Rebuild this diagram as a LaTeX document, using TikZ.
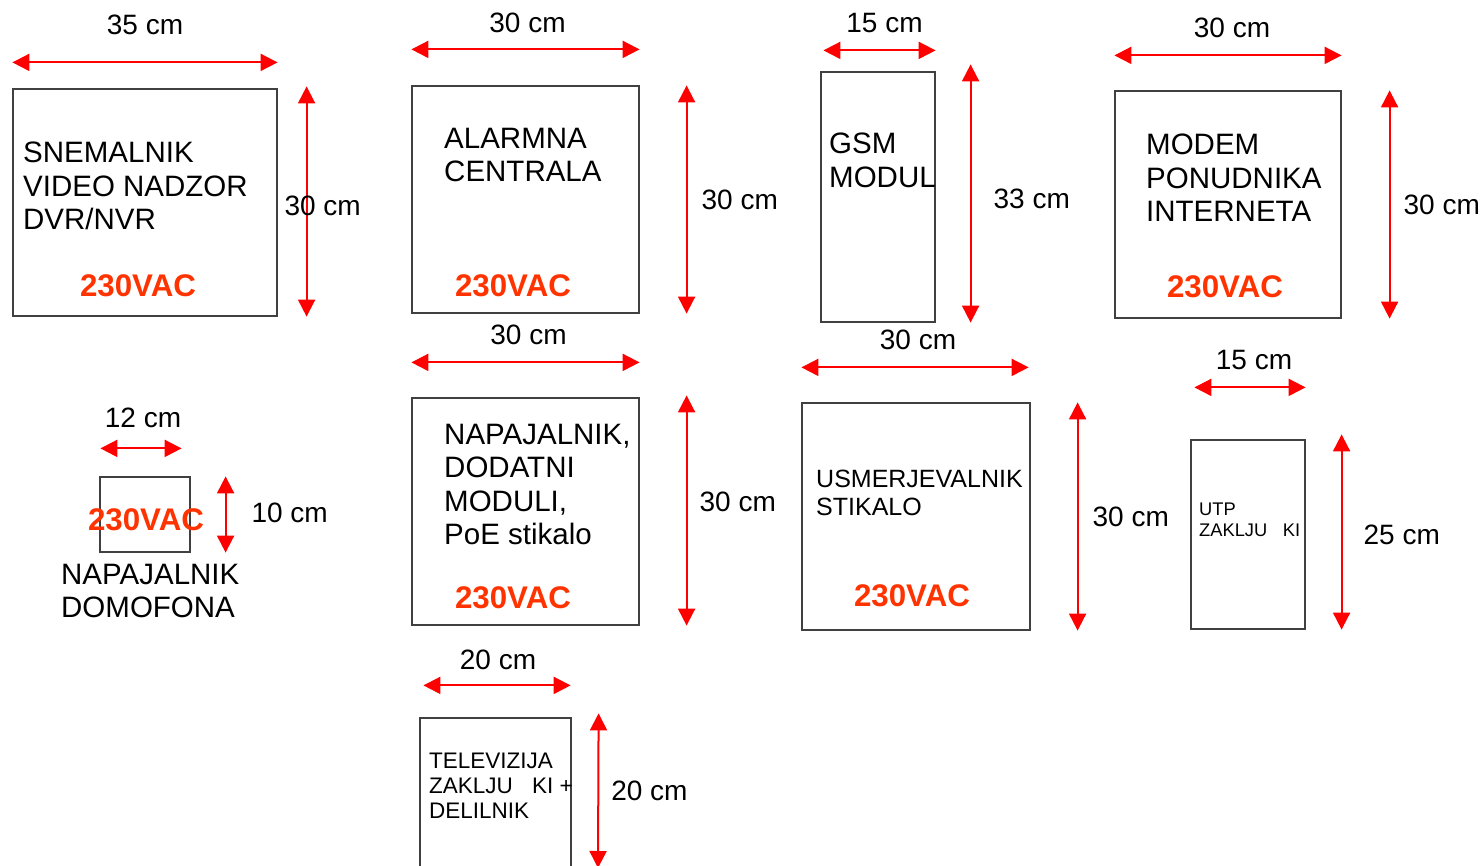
\documentclass[tikz,border=0pt]{standalone}
\usepackage{fontspec}
\setmainfont{Liberation Sans}
\usetikzlibrary{arrows.meta,positioning}
\definecolor{voltred}{HTML}{FF3300}

\begin{document}
\begin{tikzpicture}[
  x=1pt, y=-1pt,
  >={Triangle[length=17pt,width=17pt]},
  box/.style={draw=black!75, line width=1.2pt, inner sep=0pt},
  dim/.style={<->, draw=red, line width=2pt},
  dimlbl/.style={font=\fontsize{28}{33}\selectfont, inner sep=0pt, text=black},
  big/.style={font=\fontsize{29.5}{33.5}\selectfont, align=left, inner sep=0pt, anchor=north west},
  mid/.style={font=\fontsize{25}{28}\selectfont, align=left, inner sep=0pt, anchor=north west},
  volt/.style={font=\fontsize{31.3}{36}\selectfont\bfseries, text=voltred, inner sep=0pt}
]
\useasboundingbox (0,0) rectangle (1483,866);
\clip (0,0) rectangle (1483,866);

% boxes
\node[box, minimum width=264pt, minimum height=227pt] (snem) at (145,202.5) {};
\node[box, minimum width=227pt, minimum height=227pt] (alarm) at (525.5,199.5) {};
\node[box, minimum width=114pt, minimum height=250pt] (gsm) at (878,197) {};
\node[box, minimum width=226pt, minimum height=227pt] (modem) at (1228,204.5) {};
\node[box, minimum width=90pt, minimum height=75pt] (domo) at (145,514.5) {};
\node[box, minimum width=227pt, minimum height=227pt] (napa) at (525.5,511.5) {};
\node[box, minimum width=228pt, minimum height=227pt] (usm) at (916,516.5) {};
\node[box, minimum width=114pt, minimum height=189pt] (utp) at (1248,534.5) {};
\node[box, minimum width=151pt, minimum height=180pt] (tv) at (495.5,808) {};
\coordinate (tvbot) at (598,868);

% texts
\node[big] (snemtxt) at (23,142) {SNEMALNIK\\VIDEO NADZOR\\DVR/NVR};
\node[big] (alarmtxt) at (444,128) {ALARMNA\\CENTRALA};
\node[big] (gsmtxt) at (829,133) {GSM\\MODUL};
\node[big] (modemtxt) at (1146,134) {MODEM\\PONUDNIKA\\INTERNETA};
\node[big] (domotxt) at (61,564) {NAPAJALNIK\\DOMOFONA};
\node[big] (napatxt) at (444,424) {NAPAJALNIK,\\DODATNI\\MODULI,\\PoE stikalo};
\node[mid] (usmtxt) at (816,470) {USMERJEVALNIK\\STIKALO};
\node[mid, font=\fontsize{18.3}{21}\selectfont] (utptxt) at (1199,503) {UTP\\ZAKLJU\hspace{0.85em}KI};
\node[mid, font=\fontsize{22.5}{25}\selectfont] (tvtxt) at (429,753) {TELEVIZIJA\\ZAKLJU\hspace{0.85em}KI +\\DELILNIK};

% supply
\node[volt] (snemv) at (138,286) {230VAC};
\node[volt] (alarmv) at (513,286) {230VAC};
\node[volt] (modemv) at (1225,287) {230VAC};
\node[volt] (domov) at (146,520) {230VAC};
\node[volt] (napav) at (513,598) {230VAC};
\node[volt] (usmv) at (912,596) {230VAC};

% widths
\draw[dim] ([yshift=26pt]snem.north west) -- ([yshift=26pt]snem.north east) node[midway, above=27pt, dimlbl] (snemw) {35 cm};
\draw[dim] ([yshift=36pt]alarm.north west) -- ([yshift=36pt]alarm.north east) node[midway, above=16pt, xshift=2pt, dimlbl] (alarmw) {30 cm};
\draw[dim] ([yshift=21pt,xshift=3pt]gsm.north west) -- ([yshift=21pt]gsm.north east) node[midway, above=17pt, xshift=5pt, dimlbl] (gsmw) {15 cm};
\draw[dim] ([yshift=35pt]modem.north west) -- ([yshift=35pt]modem.north east) node[midway, above=17pt, xshift=4pt, dimlbl] (modemw) {30 cm};
\draw[dim] ([yshift=28pt,xshift=1pt]domo.north west) -- ([yshift=28pt,xshift=-9pt]domo.north east) node[midway, above=20pt, xshift=2pt, dimlbl] (domow) {12 cm};
\draw[dim] ([yshift=35pt]napa.north west) -- ([yshift=35pt]napa.north east) node[midway, above=17pt, xshift=3pt, dimlbl] (napaw) {30 cm};
\draw[dim] ([yshift=35pt]usm.north west) -- ([yshift=35pt,xshift=-2pt]usm.north east) node[midway, above=17pt, xshift=3pt, dimlbl] (usmw) {30 cm};
\draw[dim] ([yshift=52pt,xshift=4pt]utp.north west) -- ([yshift=52pt]utp.north east) node[midway, above=17pt, xshift=4pt, dimlbl] (utpw) {15 cm};
\draw[dim] ([yshift=32pt,xshift=4pt]tv.north west) -- ([yshift=32pt,xshift=-1pt]tv.north east) node[midway, above=15pt, xshift=1pt, dimlbl] (tvw) {20 cm};

% heights
\draw[dim] ([xshift=29pt,yshift=2pt]snem.north east) -- ([xshift=29pt]snem.south east) node[midway, right=-23pt, yshift=-4pt, dimlbl] (snemh) {30 cm};
\draw[dim] ([xshift=47pt]alarm.north east) -- ([xshift=47pt]alarm.south east) node[midway, right=14pt, dimlbl] (alarmh) {30 cm};
\draw[dim] ([xshift=35pt,yshift=7pt]gsm.north east) -- ([xshift=35pt]gsm.south east) node[midway, right=22pt, yshift=-5pt, dimlbl] (gsmh) {33 cm};
\draw[dim] ([xshift=48pt]modem.north east) -- ([xshift=48pt]modem.south east) node[midway, right=13pt, dimlbl] (modemh) {30 cm};
\draw[dim] ([xshift=35pt]domo.north east) -- ([xshift=35pt]domo.south east) node[midway, right=25pt, yshift=2pt, dimlbl] (domoh) {10 cm};
\draw[dim] ([xshift=47pt,yshift=2pt]napa.north east) -- ([xshift=47pt]napa.south east) node[midway, right=12pt, yshift=9pt, dimlbl] (napah) {30 cm};
\draw[dim] ([xshift=47pt]usm.north east) -- ([xshift=47pt]usm.south east) node[midway, right=14pt, dimlbl] (usmh) {30 cm};
\draw[dim] ([xshift=36pt,yshift=5pt]utp.north east) -- ([xshift=36pt]utp.south east) node[midway, right=21pt, yshift=-3pt, dimlbl] (utph) {25 cm};
\draw[dim] ([xshift=27pt,yshift=4pt]tv.north east) -- (tvbot) node[midway, right=12pt, dimlbl] (tvh) {20 cm};

\end{tikzpicture}
\end{document}
